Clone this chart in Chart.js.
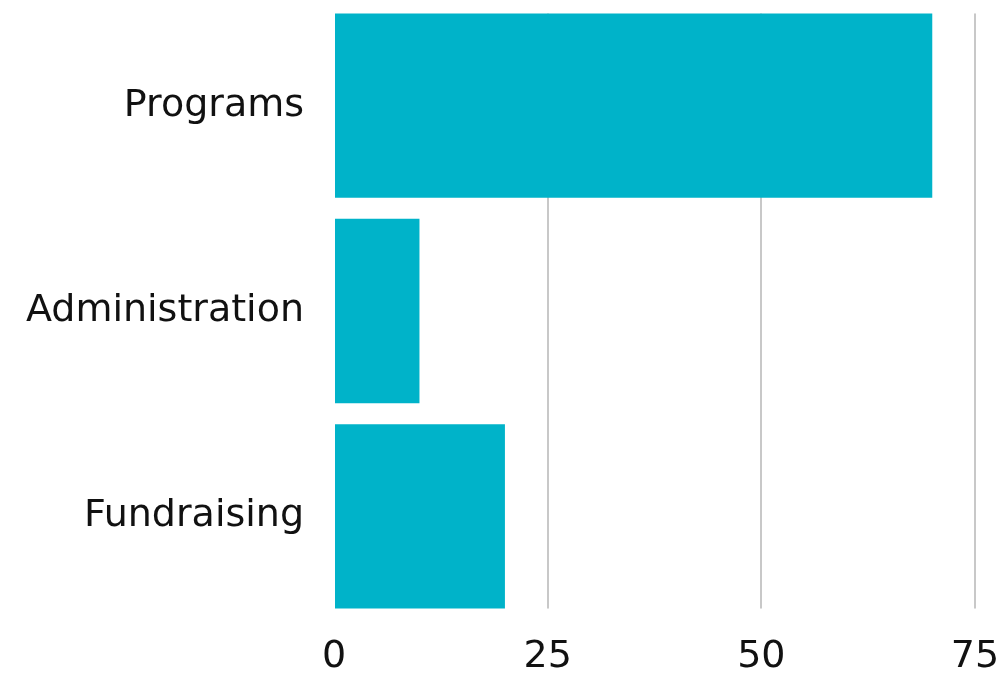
<!DOCTYPE html>
<html lang="en">
<head>
  <meta charset="UTF-8" />
  <title>Expenses by Category</title>
  <script src="https://cdn.jsdelivr.net/npm/chart.js"></script>
  <style>
    html, body {
      margin: 0;
      padding: 0;
      background: #fff;
      overflow: hidden;
    }

    #chartContainer {
      position: relative;
      width: 1004px;
      height: 673px;
    }
  </style>
</head>
<body>

  <div id="chartContainer">
    <canvas id="expenseChart"></canvas>
  </div>

  <script>
    const categories = ['Programs', 'Administration', 'Fundraising'];
    const values = [70, 10, 20];
    const xTicks = [0, 25, 50, 75];

    const tickFont = { family: "'DejaVu Sans', sans-serif", size: 38 };
    const ctx = document.getElementById('expenseChart').getContext('2d');

    // grid lines only run from the top of the first bar to the bottom of the last one
    const trimGrid = {
      id: 'trimGrid',
      beforeDatasetsDraw(chart) {
        const bars = chart.getDatasetMeta(0).data;
        if (!bars.length) return;
        const area = chart.chartArea;
        const tops = bars.map(b => b.y - b.height / 2);
        const bottoms = bars.map(b => b.y + b.height / 2);
        const c = chart.ctx;
        c.save();
        c.fillStyle = '#fff';
        c.fillRect(area.left - 2, area.top - 2, area.width + 4, Math.min(...tops) - area.top + 2);
        c.fillRect(area.left - 2, Math.max(...bottoms), area.width + 4, area.bottom - Math.max(...bottoms) + 2);
        c.restore();
      }
    };

    new Chart(ctx, {
      type: 'bar',
      data: {
        labels: categories,
        datasets: [{
          data: values,
          backgroundColor: '#00b3c9',
          borderWidth: 0,
          barPercentage: 1,
          categoryPercentage: 0.898
        }]
      },
      options: {
        indexAxis: 'y',
        responsive: true,
        maintainAspectRatio: false,
        animation: false,
        layout: { padding: { top: 3, right: 29, left: 0, bottom: 0 } },
        plugins: {
          legend: { display: false },
          tooltip: { enabled: false }
        },
        scales: {
          x: {
            min: 0,
            max: 75,
            afterBuildTicks: axis => { axis.ticks = xTicks.map(v => ({ value: v })); },
            afterFit: axis => {
              axis.height = 54;
              axis.paddingLeft = 0;
              axis.paddingRight = 0;
            },
            border: { display: false },
            grid: {
              color: c => (c.tick && c.tick.value === 0 ? 'rgba(0,0,0,0)' : '#c8c8c8'),
              lineWidth: 2,
              drawTicks: false
            },
            ticks: {
              color: '#111',
              padding: 15,
              font: tickFont
            }
          },
          y: {
            afterFit: axis => {
              axis.width = 334;
              axis.paddingTop = 0;
              axis.paddingBottom = 0;
            },
            border: { display: false },
            grid: { display: false },
            ticks: {
              color: '#111',
              padding: 22,
              font: tickFont
            }
          }
        }
      },
      plugins: [trimGrid]
    });
  </script>

</body>
</html>
